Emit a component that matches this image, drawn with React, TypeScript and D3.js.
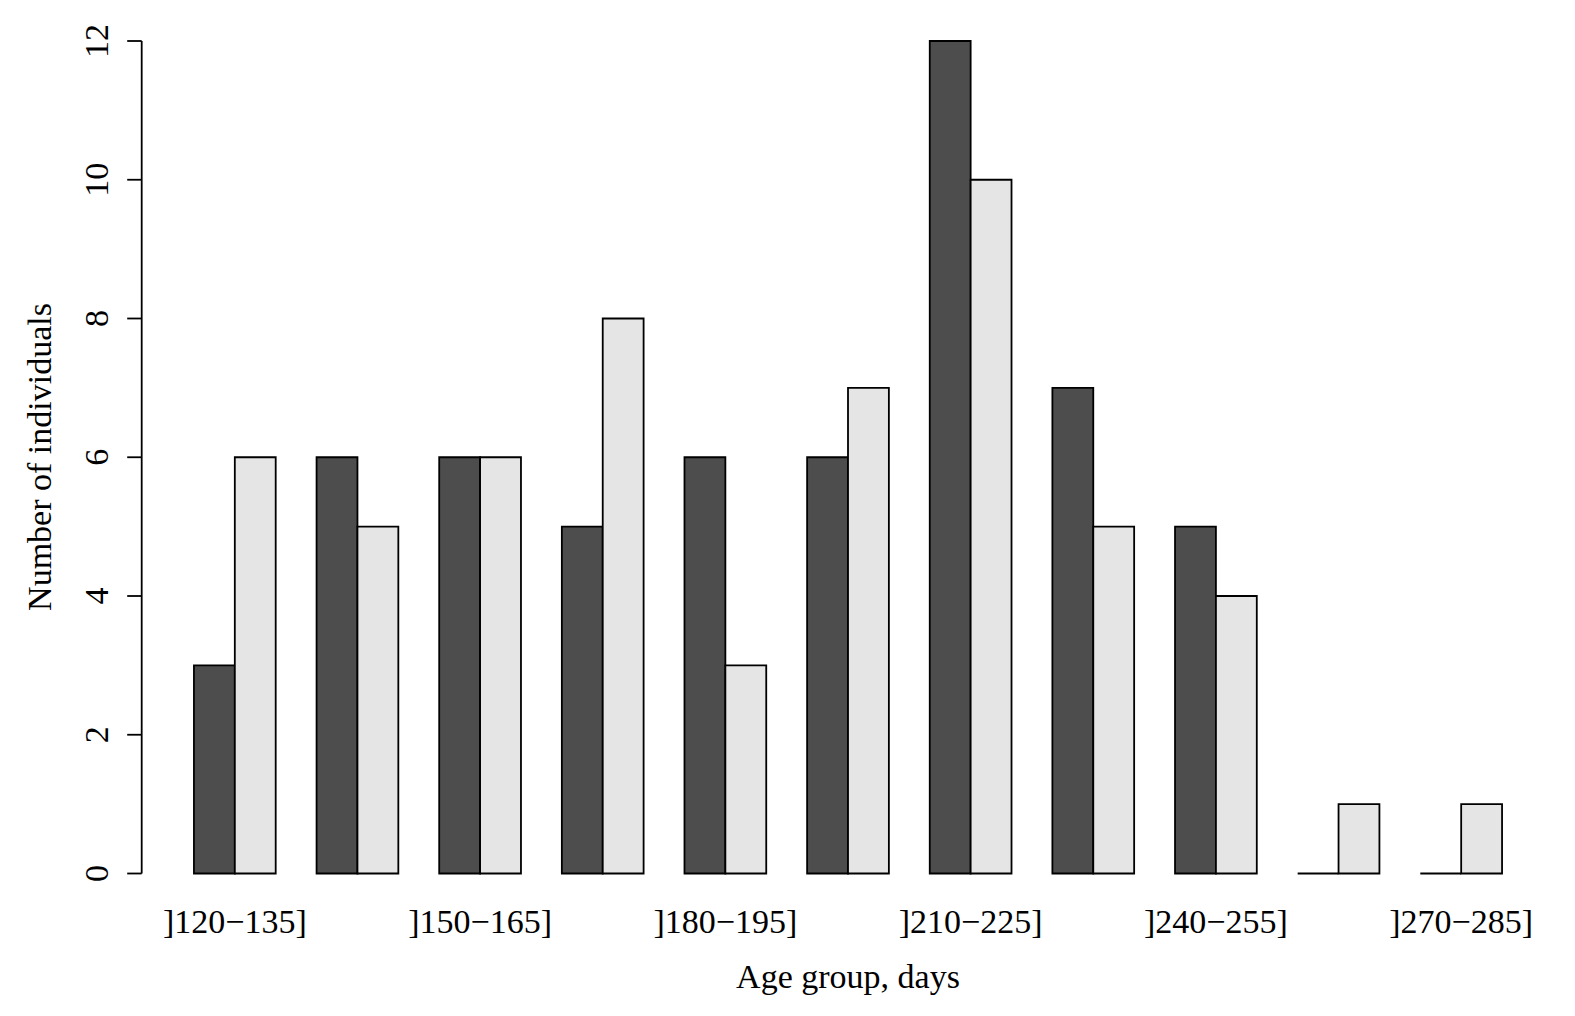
import React from 'react';
import * as d3 from 'd3';

// Age groups (only every other label fits, as in the R barplot)
const categories = [
  ']120−135]', ']135−150]', ']150−165]', ']165−180]', ']180−195]', ']195−210]',
  ']210−225]', ']225−240]', ']240−255]', ']255−270]', ']270−285]',
];
const seriesKeys = ['dark', 'light'];
const darkValues = [3, 6, 6, 5, 6, 6, 12, 7, 5, 0, 0];
const lightValues = [6, 5, 6, 8, 3, 7, 10, 5, 4, 1, 1];
const yTicks = [0, 2, 4, 6, 8, 10, 12];

const W = 1575;
const H = 1016;
const FONT = '"Liberation Serif", "Times New Roman", Times, serif';
const FILLS: Record<string, string> = { dark: '#4D4D4D', light: '#E5E5E5' };

const App: React.FC = () => {
  // plot region in R: bars span 1..33 units, plus 4% on both sides
  const x0 = d3.scaleBand()
    .domain(categories)
    .range([173.5, 1522.5])
    .paddingInner(1 / 3)
    .paddingOuter(1 / 6);

  const x1 = d3.scaleBand()
    .domain(seriesKeys)
    .range([0, x0.bandwidth()]);

  const y = d3.scaleLinear().domain([0, 12]).range([873.5, 41]);

  const axisX = 141.7;
  const tickLen = 14.5;

  const bars = categories.flatMap((c, i) => [
    { cat: c, key: 'dark', value: darkValues[i] },
    { cat: c, key: 'light', value: lightValues[i] },
  ]);

  const barPath = (b: { cat: string; key: string; value: number }) => {
    const xl = (x0(b.cat) || 0) + (x1(b.key) || 0);
    const xr = xl + x1.bandwidth();
    const yb = y(0);
    const yt = y(b.value);
    // path, not rect: zero-height bars must still draw their outline
    return `M${xl},${yb}H${xr}V${yt}H${xl}Z`;
  };

  return (
    <svg
      width={W}
      height={H}
      viewBox={`0 0 ${W} ${H}`}
      style={{ position: 'absolute', left: 0, top: 0, background: '#fff' }}
      fontFamily={FONT}
      fontSize={34}
    >
      {/* bars */}
      {bars.map((b, i) => (
        <path
          key={i}
          d={barPath(b)}
          fill={FILLS[b.key]}
          stroke="#000"
          strokeWidth={1.8}
          strokeLinejoin="miter"
        />
      ))}

      {/* y axis */}
      <line x1={axisX} x2={axisX} y1={y(0)} y2={y(12)} stroke="#000" strokeWidth={1.8} />
      {yTicks.map(v => (
        <g key={v}>
          <line x1={axisX - tickLen} x2={axisX} y1={y(v)} y2={y(v)} stroke="#000" strokeWidth={1.8} />
          <text transform={`translate(108, ${y(v)}) rotate(-90)`} textAnchor="middle">
            {v}
          </text>
        </g>
      ))}

      {/* x labels: R drops the ones that would overlap */}
      {categories.map((c, i) =>
        i % 2 === 0 ? (
          <text key={c} x={(x0(c) || 0) + x0.bandwidth() / 2} y={933} textAnchor="middle">
            {c}
          </text>
        ) : null
      )}

      {/* axis titles */}
      <text x={848} y={988} textAnchor="middle">Age group, days</text>
      <text transform="translate(51, 457) rotate(-90)" textAnchor="middle">Number of individuals</text>
    </svg>
  );
};

export default App;
